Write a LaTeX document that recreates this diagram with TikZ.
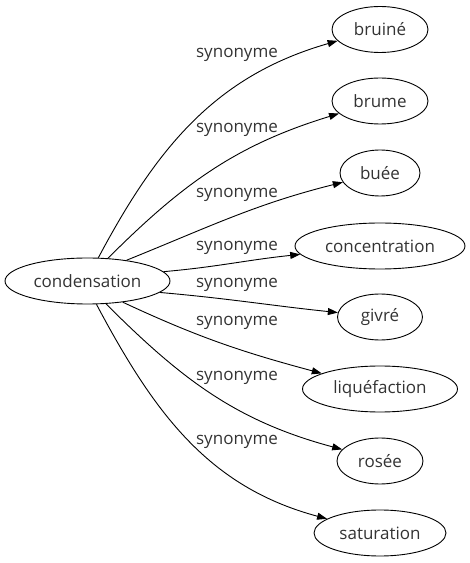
\documentclass[tikz,border=0pt]{standalone}
\usepackage{fontspec}
\setmainfont{Open Sans}
\usetikzlibrary{shapes.geometric,arrows.meta}

\begin{document}
\begin{tikzpicture}[x=1pt,y=1pt,>={Triangle[length=10pt,width=7pt]},
  font=\fontsize{17}{20}\selectfont,
  word/.style={ellipse,draw,line width=0.9pt,minimum height=46pt,inner sep=0pt,text=black!80},
  rel/.style={->,line width=0.9pt},
  lbl/.style={inner sep=0pt,text=black!80}]
  \useasboundingbox (0,0) rectangle (470,563);

  % source word
  \node[word,minimum width=165pt] (cond) at (87.5,282) {condensation};

  % synonyms
  \node[word,minimum width=96pt]  (bruine) at (380,533.5) {bruiné};
  \node[word,minimum width=96pt]  (brume)  at (380,462)   {brume};
  \node[word,minimum width=80pt]  (buee)   at (380,390)   {buée};
  \node[word,minimum width=170pt] (conc)   at (380,317)   {concentration};
  \node[word,minimum width=85pt]  (givre)  at (380,246)   {givré};
  \node[word,minimum width=155pt] (liq)    at (380,174)   {liquéfaction};
  \node[word,minimum width=86pt]  (rosee)  at (380,102)   {rosée};
  \node[word,minimum width=132pt] (sat)    at (380,30)    {saturation};

  % relations
  \draw[rel] (cond.65)  to[out=62,in=196]  (bruine.195);
  \draw[rel] (cond.48)  to[out=45,in=197]  (brume.197);
  \draw[rel] (cond.28)  to[out=22,in=194]  (buee.194);
  \draw[rel] (cond.7)   to[out=5,in=186]   (conc.186);
  \draw[rel] (cond.-9)  to[out=-5,in=174]  (givre.174);
  \draw[rel] (cond.-31) to[out=-25,in=165] (liq.165);
  \draw[rel] (cond.-51) to[out=-45,in=165] (rosee.163);
  \draw[rel] (cond.-69) to[out=-62,in=165] (sat.165);

  % edge labels
  \node[lbl] (l1) at (237,508) {synonyme};
  \node[lbl] (l2) at (237,433) {synonyme};
  \node[lbl] (l3) at (237,368) {synonyme};
  \node[lbl] (l4) at (237,315) {synonyme};
  \node[lbl] (l5) at (237,278) {synonyme};
  \node[lbl] (l6) at (237,240) {synonyme};
  \node[lbl] (l7) at (237,185) {synonyme};
  \node[lbl] (l8) at (237,121) {synonyme};
\end{tikzpicture}
\end{document}
